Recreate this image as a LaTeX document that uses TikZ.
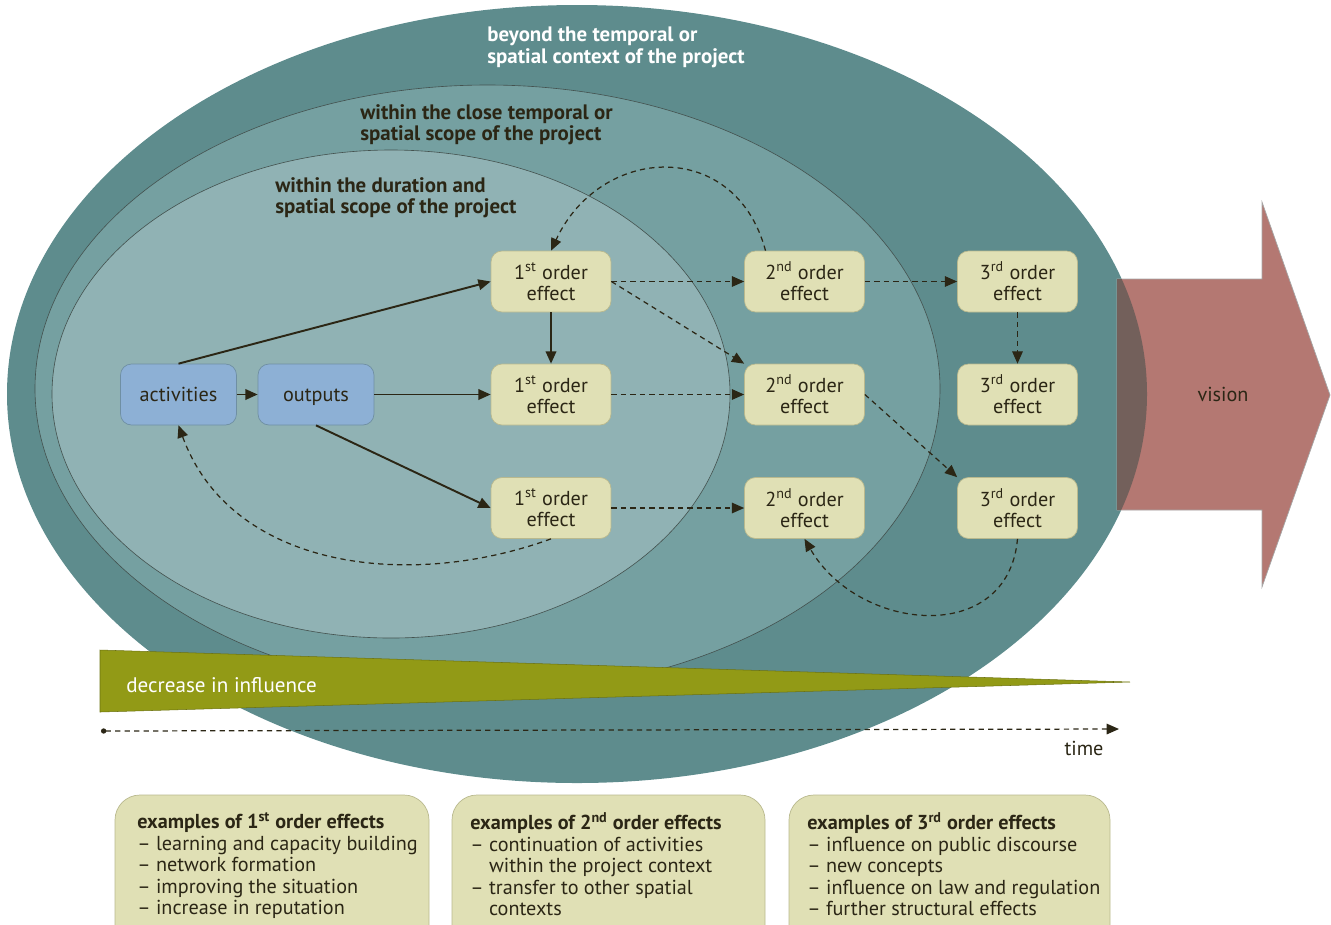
\documentclass[tikz,border=0pt]{standalone}
\usepackage{fontspec}
\setmainfont{PT Sans}
\usetikzlibrary{arrows.meta,calc}
\definecolor{outerc}{HTML}{5E8C8D}
\definecolor{midc}{HTML}{75A0A1}
\definecolor{innerc}{HTML}{90B2B4}
\definecolor{rimc}{HTML}{44524F}
\definecolor{boxfill}{HTML}{E0E0B5}
\definecolor{boxline}{HTML}{B9B98E}
\definecolor{bluefill}{HTML}{8DB0D5}
\definecolor{blueline}{HTML}{6F8FA3}
\definecolor{darkc}{HTML}{2B2615}
\definecolor{olivec}{HTML}{929A16}
\definecolor{visionc}{HTML}{B47872}
\definecolor{overlapc}{HTML}{73605B}

\tikzset{
  effect/.style={draw=boxline, fill=boxfill, rounded corners=0.22cm, minimum width=2.4cm,
    minimum height=1.22cm, inner sep=0pt, align=center, text=darkc,
    font=\fontsize{11.5}{12}\selectfont},
  startbox/.style={effect, draw=blueline, fill=bluefill, minimum width=2.32cm,
    text height=9.5pt, text depth=1.5pt},
  scopetxt/.style={anchor=north west, align=left, inner sep=0pt, text=darkc,
    font=\fontsize{11.9}{12}\selectfont\bfseries},
  extxt/.style={anchor=north west, align=left, inner sep=0pt, text=darkc,
    font=\fontsize{11.5}{12.2}\selectfont},
  solidarrow/.style={draw=darkc, line width=1.1pt, -{Triangle[length=7pt,width=6pt]}},
  dasharrow/.style={draw=darkc, line width=0.7pt, dash pattern=on 3pt off 2.4pt,
    -{Triangle[length=7pt,width=6pt]}},
}

\begin{document}
\begin{tikzpicture}[x=0.02cm,y=0.02cm]
    \useasboundingbox (0,0) rectangle (1331,-924);
    % the three scopes
    \fill[outerc] (577,-394) ellipse [x radius=570, y radius=389];
    \filldraw[fill=midc, draw=rimc, line width=0.35pt] (487.5,-388.7) ellipse [x radius=452.5, y radius=303.7];
    \filldraw[fill=innerc, draw=rimc, line width=0.35pt] (391,-394) ellipse [x radius=339, y radius=244];
    \node[scopetxt, text=white] (beyond) at (487,-27) {beyond the temporal or\\spatial context of the project};
    \node[scopetxt] (close) at (360,-104) {within the close temporal or\\spatial scope of the project};
    \node[scopetxt] (within) at (275,-177) {within the duration and\\spatial scope of the project};
    % vision arrow
    \filldraw[fill=visionc, draw=gray!70, line width=0.4pt] (1117,-279) -- (1262,-279) -- (1262,-202) -- (1330,-395)
        -- (1262,-587) -- (1262,-510) -- (1117,-510) -- cycle;
    \begin{scope}
      \clip (577,-394) ellipse [x radius=570, y radius=389];
      \fill[overlapc] (1117,-279) rectangle (1262,-510);
    \end{scope}
    \node[text=darkc, font=\fontsize{11.5}{12}\selectfont] (vision) at (1223,-394) {vision};
    % decrease in influence
    \filldraw[fill=olivec, draw=olivec!75!black, line width=0.3pt] (100,-650) -- (1130,-682) -- (100,-712) -- cycle;
    \node[anchor=west, inner sep=0pt, text=white, font=\fontsize{12}{12}\selectfont] (decr) at (126,-685) {decrease in influence};
    % time axis
    \coordinate (t0) at (101,-731);
    \coordinate (t1) at (1119,-729);
    \draw[darkc, line width=0.7pt, dash pattern=on 3pt off 2.4pt, {Circle[length=3pt]}-{Triangle[length=7pt,width=6pt]}] (t0) -- (t1);
    \node[text=darkc, font=\fontsize{11.5}{12}\selectfont] (time) at (1084,-748) {time};
    % boxes
    \node[startbox] (act) at (178.5,-394.5) {activities};
    \node[startbox] (out) at (316,-394.5) {outputs};
    \foreach \c/\x/\s in {1/551/st, 2/804.5/nd, 3/1017.5/rd}
      \foreach \r/\y in {1/281.5, 2/394.5, 3/508}
        \node[effect] (n\c\r) at (\x,-\y) {\c\textsuperscript{\s} order\\effect};
    % solid links
    \draw[solidarrow] (act) -- (out);
    \draw[solidarrow] (act.north) -- (n11.west);
    \draw[solidarrow] (out) -- (n12);
    \draw[solidarrow] (out.south) -- (n13.west);
    \draw[solidarrow] (n11) -- (n12);
    % dashed links
    \draw[dasharrow] (n11) -- (n21);
    \draw[dasharrow] (n11.east) -- (n22.north west);
    \draw[dasharrow] (n12) -- (n22);
    \draw[dasharrow] (n13) -- (n23);
    \draw[dasharrow] (n21) -- (n31);
    \draw[dasharrow] (n31) -- (n32);
    \draw[dasharrow] (n22.east) -- (n33.north west);
    \draw[dasharrow] ([xshift=-0.78cm]n21.north) to[out=105, in=65, looseness=1.4] (n11.north);
    \draw[dasharrow] (n13.south) to[out=200, in=-70] (act.south);
    \draw[dasharrow] (n33.south) to[out=-95, in=-60, looseness=1.3] (n23.south);
    % examples
    \begin{scope}
      \clip (0,0) rectangle (1331,-924);
      \foreach \x/\w in {115/314, 452/313, 789/321}
        \filldraw[fill=boxfill, draw=boxline, line width=0.4pt, rounded corners=0.5cm] (\x,-795) rectangle ++(\w,-180);
    \end{scope}
    \node[extxt] (ex1) at (137,-812) {\textbf{examples of 1\textsuperscript{st} order effects}\\
      – learning and capacity building\\– network formation\\– improving the situation\\– increase in reputation};
    \node[extxt] (ex2) at (470,-812) {\textbf{examples of 2\textsuperscript{nd} order effects}\\
      – continuation of activities\\\phantom{– }within the project context\\– transfer to other spatial\\\phantom{– }contexts};
    \node[extxt] (ex3) at (807,-812) {\textbf{examples of 3\textsuperscript{rd} order effects}\\
      – influence on public discourse\\– new concepts\\– influence on law and regulation\\– further structural effects};
\end{tikzpicture}
\end{document}
